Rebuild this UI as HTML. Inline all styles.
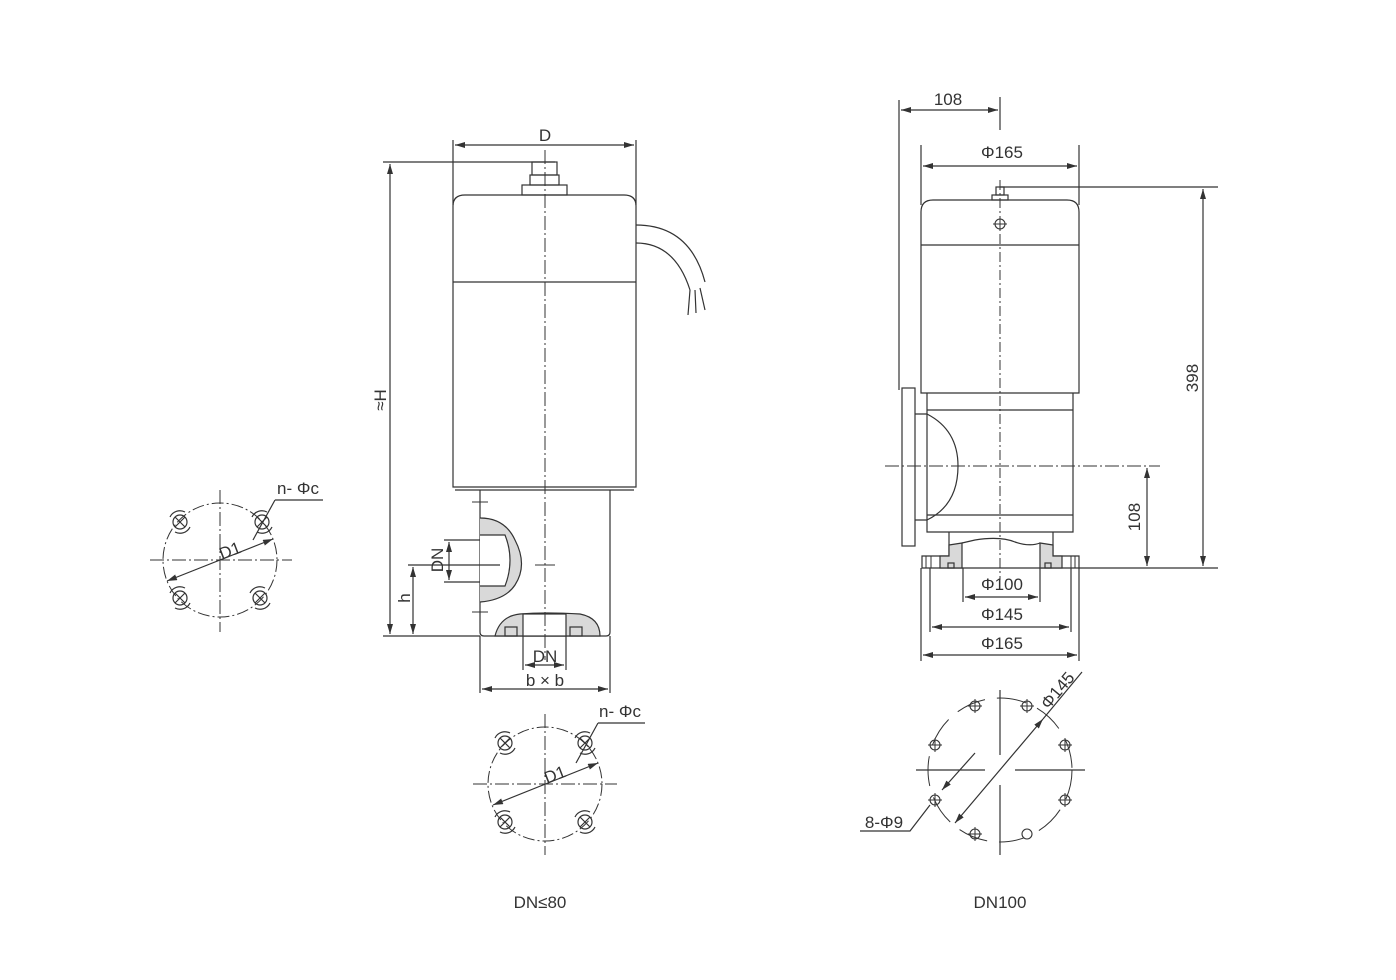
<!DOCTYPE html>
<html><head><meta charset="utf-8"><style>
html,body{margin:0;padding:0;background:#fff;}
svg{display:block;}
text{font-family:"Liberation Sans",sans-serif;fill:#333;font-size:17px;}
</style></head><body>
<svg width="1396" height="980" viewBox="0 0 1396 980" xmlns="http://www.w3.org/2000/svg">
<defs>
<marker id="a" viewBox="0 0 10 6" refX="10" refY="3" markerWidth="10" markerHeight="6" orient="auto-start-reverse" markerUnits="userSpaceOnUse"><path d="M0,0 L10,3 L0,6 Z" fill="#333"/></marker>
<g id="hole"><circle r="7" fill="none" stroke="#333" stroke-width="1.2"/><path d="M-5,-5 L5,5 M-5,5 L5,-5" stroke="#333" stroke-width="1.2"/><path d="M-10,-5 A11,11 0 0 1 5,-10 M10,5 A11,11 0 0 1 -5,10" fill="none" stroke="#333" stroke-width="1.2"/></g>
<g id="sh"><circle r="5" fill="none" stroke="#333" stroke-width="1.1"/><path d="M-7,0 H7 M0,-7 V7" stroke="#333" stroke-width="1"/></g>
</defs>
<g stroke="#333" stroke-width="1.2" fill="none">
<line x1="453" y1="140" x2="453" y2="205"/><line x1="636" y1="140" x2="636" y2="205"/>
<line x1="455" y1="145" x2="634" y2="145" marker-start="url(#a)" marker-end="url(#a)"/>
<line x1="383" y1="162" x2="555" y2="162"/>
<line x1="390" y1="164" x2="390" y2="634" marker-start="url(#a)" marker-end="url(#a)"/>
<line x1="383" y1="636" x2="480" y2="636"/>
<rect x="532" y="162" width="25" height="13"/>
<rect x="530" y="175" width="29" height="10"/>
<rect x="522" y="185" width="45" height="10"/>
<path d="M453,487 V206 Q453,195 465,195 H624 Q636,195 636,206 V487 Z"/>
<line x1="453" y1="282" x2="636" y2="282"/>
<line x1="455" y1="490" x2="634" y2="490"/>
<path d="M636,225 Q690,225 705,282 M636,243 Q675,243 690,290"/>
<path d="M690,290 L688,315 M695,290 L696,313 M700,288 L705,310"/>
<path d="M480,490 V632 Q480,636 484,636 H606 Q610,636 610,632 V490"/>
<path d="M480,518 Q505,518 515,540 Q528,565 515,585 Q505,600 480,602" fill="#d9d9d9"/>
<path d="M480,535 H505 Q515,560 505,586 H480"  fill="#fff"/>
<line x1="444" y1="540" x2="480" y2="540"/><line x1="444" y1="582" x2="480" y2="582"/>
<line x1="449" y1="542" x2="449" y2="580" marker-start="url(#a)" marker-end="url(#a)"/>
<line x1="408" y1="565" x2="500" y2="565"/>
<line x1="413" y1="567" x2="413" y2="634" marker-start="url(#a)" marker-end="url(#a)"/>
<path d="M495,636 Q500,616 520,614 Q545,612 580,614 Q600,618 600,636 Z" fill="#d9d9d9"/>
<rect x="523" y="614" width="43" height="22" fill="#fff"/>
<rect x="505" y="627" width="12" height="9"/><rect x="570" y="627" width="12" height="9"/>
<line x1="480" y1="636" x2="480" y2="693"/><line x1="610" y1="636" x2="610" y2="693"/>
<line x1="523" y1="636" x2="523" y2="670"/><line x1="566" y1="636" x2="566" y2="670"/>
<line x1="525" y1="665" x2="564" y2="665" marker-start="url(#a)" marker-end="url(#a)"/>
<line x1="482" y1="689" x2="608" y2="689" marker-start="url(#a)" marker-end="url(#a)"/>
<line x1="545" y1="150" x2="545" y2="660" stroke-dasharray="14,3,2,3" stroke-width="1"/>
<path d="M472,502 H488 M472,612 H488 M535,565 H555" stroke-width="1"/>
<circle cx="220" cy="560" r="57" stroke-dasharray="12,3,2,3" stroke-width="1"/>
<line x1="150" y1="560" x2="292" y2="560" stroke-dasharray="14,3,2,3" stroke-width="1"/>
<line x1="220" y1="490" x2="220" y2="632" stroke-dasharray="14,3,2,3" stroke-width="1"/>
<line x1="167" y1="581" x2="273" y2="539" marker-start="url(#a)" marker-end="url(#a)"/>
<path d="M275,500 L323,500 M275,500 L253,540"/>
<circle cx="545" cy="784" r="57" stroke-dasharray="12,3,2,3" stroke-width="1"/>
<line x1="473" y1="784" x2="617" y2="784" stroke-dasharray="14,3,2,3" stroke-width="1"/>
<line x1="545" y1="714" x2="545" y2="855" stroke-dasharray="14,3,2,3" stroke-width="1"/>
<line x1="493" y1="805" x2="598" y2="763" marker-start="url(#a)" marker-end="url(#a)"/>
<path d="M598,723 L645,723 M598,723 L576,763"/>
<line x1="899" y1="100" x2="899" y2="390"/><line x1="1000" y1="97" x2="1000" y2="130"/>
<line x1="901" y1="110" x2="998" y2="110" marker-start="url(#a)" marker-end="url(#a)"/>
<line x1="921" y1="145" x2="921" y2="205"/><line x1="1079" y1="145" x2="1079" y2="205"/>
<line x1="923" y1="166" x2="1077" y2="166" marker-start="url(#a)" marker-end="url(#a)"/>
<line x1="1000" y1="187" x2="1218" y2="187"/>
<line x1="1203" y1="189" x2="1203" y2="566" marker-start="url(#a)" marker-end="url(#a)"/>
<rect x="996" y="187" width="8" height="8"/><rect x="992" y="195" width="16" height="5"/>
<path d="M921,393 V212 Q921,200 933,200 H1067 Q1079,200 1079,212 V393 Z"/>
<line x1="921" y1="245" x2="1079" y2="245"/>
<path d="M927,393 V532 H1073 V393"/>
<line x1="927" y1="410" x2="1073" y2="410"/><line x1="927" y1="515" x2="1073" y2="515"/>
<rect x="902" y="388" width="13" height="158"/>
<path d="M915,414 H927 Q958,430 958,466 Q958,505 927,520 H915"/>
<path d="M949,532 V556 H922 V568 H1079 V556 H1053 V532"/>
<path d="M949,545 L962,543 V568 H940 V556 H949 Z M1053,545 L1040,543 V568 H1062 V556 H1053 Z" fill="#d9d9d9"/>
<path d="M962,543 L975,540 Q1000,536 1015,542 Q1030,547 1040,543"/>
<rect x="948" y="563" width="6" height="5"/><rect x="1045" y="563" width="6" height="5"/>
<path d="M926,556 V568 M931,556 V568 M1071,556 V568 M1075,556 V568" stroke-width="1"/>
<line x1="1079" y1="568" x2="1218" y2="568"/>
<line x1="885" y1="466" x2="1160" y2="466" stroke-dasharray="14,3,2,3" stroke-width="1"/>
<line x1="1147" y1="468" x2="1147" y2="566" marker-start="url(#a)" marker-end="url(#a)"/>
<line x1="1000" y1="180" x2="1000" y2="580" stroke-dasharray="10,3,2,3" stroke-width="1"/>
<line x1="963" y1="568" x2="963" y2="602"/><line x1="1040" y1="568" x2="1040" y2="602"/>
<line x1="965" y1="597" x2="1038" y2="597" marker-start="url(#a)" marker-end="url(#a)"/>
<line x1="930" y1="568" x2="930" y2="632"/><line x1="1071" y1="568" x2="1071" y2="632"/>
<line x1="932" y1="627" x2="1069" y2="627" marker-start="url(#a)" marker-end="url(#a)"/>
<line x1="921" y1="568" x2="921" y2="661"/><line x1="1079" y1="568" x2="1079" y2="661"/>
<line x1="923" y1="655" x2="1077" y2="655" marker-start="url(#a)" marker-end="url(#a)"/>
<circle cx="1000" cy="770" r="72" stroke-dasharray="30,12" stroke-width="1"/>
<line x1="916" y1="770" x2="985" y2="770"/><line x1="1015" y1="770" x2="1085" y2="770"/>
<line x1="1000" y1="690" x2="1000" y2="755"/><line x1="1000" y1="785" x2="1000" y2="855"/>
<line x1="955" y1="823" x2="1043" y2="719" marker-start="url(#a)" marker-end="url(#a)"/>
<line x1="1043" y1="719" x2="1082" y2="672"/>
<line x1="975" y1="753" x2="942" y2="790" marker-end="url(#a)"/>
<path d="M860,831 H910 L930,805"/>
</g>
<g>
<use href="#hole" x="180" y="522"/><use href="#hole" x="262" y="522"/><use href="#hole" x="180" y="598"/><use href="#hole" x="260" y="598"/>
<use href="#hole" x="505" y="743"/><use href="#hole" x="585" y="743"/><use href="#hole" x="505" y="822"/><use href="#hole" x="585" y="822"/>
<use href="#sh" x="1000" y="224"/>
<use href="#sh" x="975" y="706"/><use href="#sh" x="1027" y="706"/><use href="#sh" x="1065" y="745"/><use href="#sh" x="1065" y="800"/>
<use href="#sh" x="975" y="834"/><use href="#sh" x="935" y="800"/><use href="#sh" x="935" y="745"/>
<circle cx="1027" cy="834" r="5" fill="#fff" stroke="#333" stroke-width="1.1"/>
</g>
<text x="545" y="141" text-anchor="middle">D</text>
<text transform="translate(386,400) rotate(-90)" text-anchor="middle">≈H</text>
<text transform="translate(443,560) rotate(-90)" text-anchor="middle">DN</text>
<text transform="translate(410,598) rotate(-90)" text-anchor="middle">h</text>
<text x="545" y="662" text-anchor="middle">DN</text>
<text x="545" y="686" text-anchor="middle">b × b</text>
<text x="298" y="494" text-anchor="middle">n- Φc</text>
<text x="620" y="717" text-anchor="middle">n- Φc</text>
<text transform="translate(232,556) rotate(-21)" text-anchor="middle" font-size="15">D1</text>
<text transform="translate(557,780) rotate(-21)" text-anchor="middle" font-size="15">D1</text>
<text x="540" y="908" text-anchor="middle">DN≤80</text>
<text x="948" y="105" text-anchor="middle">108</text>
<text x="1002" y="158" text-anchor="middle">Φ165</text>
<text transform="translate(1198,378) rotate(-90)" text-anchor="middle">398</text>
<text transform="translate(1140,517) rotate(-90)" text-anchor="middle">108</text>
<text x="1002" y="590" text-anchor="middle">Φ100</text>
<text x="1002" y="620" text-anchor="middle">Φ145</text>
<text x="1002" y="649" text-anchor="middle">Φ165</text>
<text transform="translate(1062,694) rotate(-50)" text-anchor="middle">Φ145</text>
<text x="884" y="828" text-anchor="middle">8-Φ9</text>
<text x="1000" y="908" text-anchor="middle">DN100</text>
</svg>
</body></html>
